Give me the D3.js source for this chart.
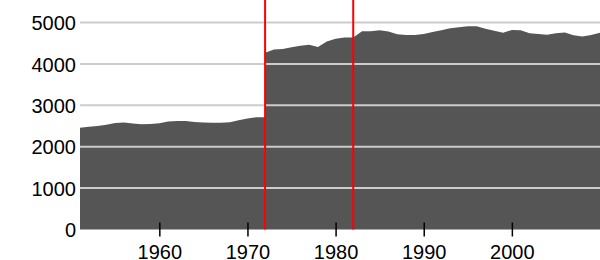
<!DOCTYPE html>
<meta charset="utf-8">
<script src="https://d3js.org/d3.v7.min.js"></script>
<style type="text/css">
body { margin: 0; background: #fff; }
text { font-family: "Liberation Sans", Arial, sans-serif; font-size: 20px; fill: #000; }
</style>
<body>
</body>
<script>

// data (1972 appears twice: the series jumps there)
var years = [1951, 1952, 1953, 1954, 1955, 1956, 1957, 1958, 1959, 1960,
  1961, 1962, 1963, 1964, 1965, 1966, 1967, 1968, 1969, 1970,
  1971, 1972, 1972, 1973, 1974, 1975, 1976, 1977, 1978, 1979, 1980,
  1981, 1982, 1983, 1984, 1985, 1986, 1987, 1988, 1989, 1990,
  1991, 1992, 1993, 1994, 1995, 1996, 1997, 1998, 1999, 2000,
  2001, 2002, 2003, 2004, 2005, 2006, 2007, 2008, 2009, 2010];
var values = [2455, 2480, 2500, 2530, 2570, 2585, 2560, 2545, 2550, 2565,
  2610, 2620, 2620, 2595, 2585, 2580, 2580, 2590, 2640, 2680,
  2710, 2710, 4270, 4350, 4360, 4400, 4440, 4460, 4410, 4540, 4610,
  4635, 4635, 4790, 4790, 4810, 4780, 4715, 4700, 4700, 4720,
  4770, 4810, 4860, 4885, 4910, 4910, 4850, 4800, 4750, 4820,
  4810, 4740, 4720, 4705, 4740, 4760, 4690, 4660, 4700, 4755];
var yTicks = [0, 1000, 2000, 3000, 4000, 5000];
var xTicks = [1960, 1970, 1980, 1990, 2000];
var markers = [1972, 1982];

var width = 600, height = 260;
var margin = {top: 22.5, right: 0, bottom: 30.5, left: 80};

var svg = d3.select("body").append("svg")
  .attr("width", width)
  .attr("height", height);

var xScale = d3.scaleLinear()
  .domain([1951, 2010])
  .range([margin.left, width - margin.right]);

var yScale = d3.scaleLinear()
  .domain([0, 5000])
  .range([height - margin.bottom, margin.top]);

var data = years.map(function(y, i) { return {year: y, value: values[i]}; });

// area
var area = d3.area()
  .x(function(d) { return xScale(d.year); })
  .y0(yScale(0))
  .y1(function(d) { return yScale(d.value); });

svg.append("path")
  .datum(data)
  .attr("d", area)
  .style("fill", "#555555");

// grid lines over the area
svg.selectAll(".grid")
  .data(yTicks.slice(1))
  .enter().append("line")
  .attr("class", "grid")
  .attr("x1", margin.left)
  .attr("x2", width)
  .attr("y1", function(d) { return yScale(d); })
  .attr("y2", function(d) { return yScale(d); })
  .style("stroke", "#cccccc")
  .style("stroke-width", 2);

// y labels
var yAxis = d3.axisLeft(yScale)
  .tickValues(yTicks)
  .tickFormat(d3.format("d"))
  .tickSize(0)
  .tickPadding(4);

var yAxisGroup = svg.append("g")
  .attr("class", "y axis")
  .attr("transform", "translate(" + margin.left + ",0)")
  .call(yAxis);
yAxisGroup.select(".domain").remove();
yAxisGroup.selectAll("text")
  .style("font-size", "20px")
  .style("font-family", "Liberation Sans, Arial, sans-serif")
  .attr("dy", "0.36em");

// x axis: ticks crossing the baseline
var xAxis = d3.axisBottom(xScale)
  .tickValues(xTicks)
  .tickFormat(d3.format("d"))
  .tickSize(7)
  .tickPadding(8.5);

var xAxisGroup = svg.append("g")
  .attr("class", "x axis")
  .attr("transform", "translate(0," + yScale(0) + ")")
  .call(xAxis);
xAxisGroup.select(".domain").remove();
xAxisGroup.selectAll(".tick line")
  .attr("y1", -7)
  .style("stroke", "#000")
  .style("stroke-width", 1.5);
xAxisGroup.selectAll("text")
  .style("font-size", "20px")
  .style("font-family", "Liberation Sans, Arial, sans-serif");

// red markers
svg.selectAll(".marker")
  .data(markers)
  .enter().append("line")
  .attr("class", "marker")
  .attr("x1", function(d) { return xScale(d); })
  .attr("x2", function(d) { return xScale(d); })
  .attr("y1", 0)
  .attr("y2", yScale(0))
  .style("stroke", "#ff0000")
  .style("stroke-width", 2);

</script>
